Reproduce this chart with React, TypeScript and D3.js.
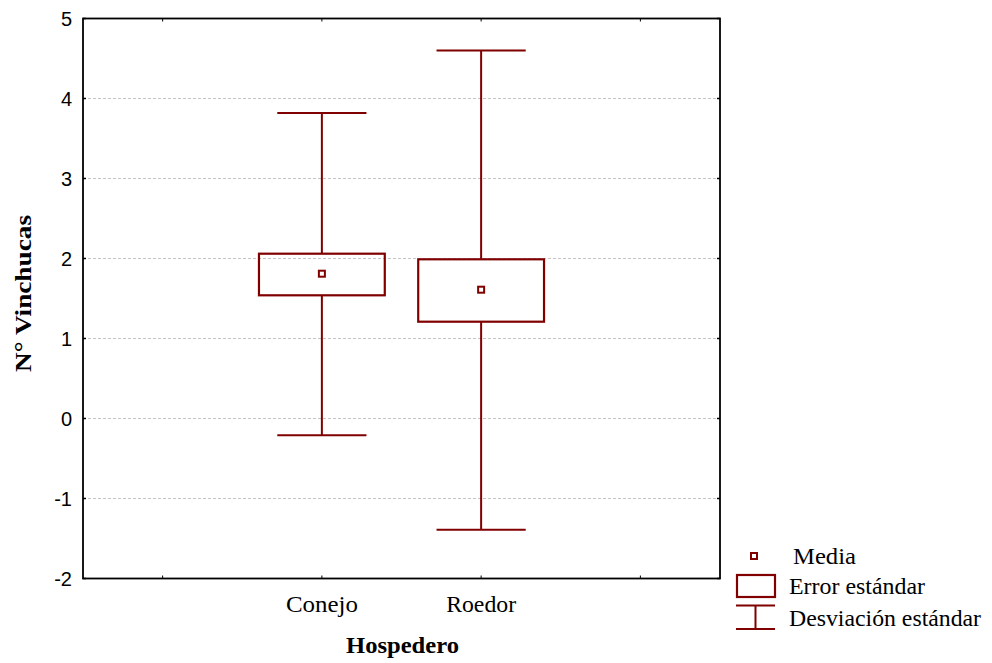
import React from "react";
import * as d3 from "d3";

const categories = ["Conejo", "Roedor"];
const categoryPos = [2, 3];
const means = [1.81, 1.61];
const seLow = [1.54, 1.21];
const seHigh = [2.06, 1.99];
const sdLow = [-0.21, -1.39];
const sdHigh = [3.82, 4.6];
const yTicks = [5, 4, 3, 2, 1, 0, -1, -2];
const xTicks = [1, 2, 3, 4];

const W = 992;
const H = 663;
const L = 83, R = 720, T = 18.5, B = 578.5;
const COL = "#800000";
const SERIF = "'Liberation Serif', 'Times New Roman', Times, serif";
const SANS = "'Liberation Sans', Arial, sans-serif";

export default function App() {
  const x = d3.scaleLinear().domain([0.5, 4.5]).range([L, R]);
  const y = d3.scaleLinear().domain([-2, 5]).range([B, T]);
  const boxHalf = 0.395;
  const capHalf = 0.28;
  const px = (u: number) => x(u) - x(0);

  return (
    <svg width={W} height={H} style={{ position: "absolute", left: 0, top: 0, background: "#fff" }}>
      {yTicks.filter((t) => t > -2 && t < 5).map((t) => (
        <line key={"g" + t} x1={L} x2={R} y1={y(t)} y2={y(t)} stroke="#c4c4c4" strokeWidth={1} strokeDasharray="3,2" />
      ))}
      {yTicks.map((t) => (
        <g key={"yt" + t}>
          <line x1={L} x2={L + 3} y1={y(t)} y2={y(t)} stroke="#000" strokeWidth={1.5} />
          <line x1={R - 3} x2={R} y1={y(t)} y2={y(t)} stroke="#000" strokeWidth={1.5} />
          <text x={72} y={y(t)} dy="0.36em" textAnchor="end" fontFamily={SANS} fontSize={20} fill="#000">{t}</text>
        </g>
      ))}
      {xTicks.map((t) => (
        <g key={"xt" + t}>
          <line x1={x(t)} x2={x(t)} y1={T} y2={T + 3} stroke="#000" strokeWidth={1} />
          <line x1={x(t)} x2={x(t)} y1={B - 3} y2={B} stroke="#000" strokeWidth={1} />
        </g>
      ))}
      <rect x={L} y={T} width={R - L} height={B - T} fill="none" stroke="#000" strokeWidth={1.8} />

      {categories.map((c, i) => {
        const cx = x(categoryPos[i]);
        return (
          <g key={c}>
            <line x1={cx} x2={cx} y1={y(sdHigh[i])} y2={y(seHigh[i])} stroke={COL} strokeWidth={2} />
            <line x1={cx} x2={cx} y1={y(seLow[i])} y2={y(sdLow[i])} stroke={COL} strokeWidth={2} />
            <line x1={cx - px(capHalf)} x2={cx + px(capHalf)} y1={y(sdHigh[i])} y2={y(sdHigh[i])} stroke={COL} strokeWidth={2} />
            <line x1={cx - px(capHalf)} x2={cx + px(capHalf)} y1={y(sdLow[i])} y2={y(sdLow[i])} stroke={COL} strokeWidth={2} />
            <rect x={cx - px(boxHalf)} y={y(seHigh[i])} width={2 * px(boxHalf)} height={y(seLow[i]) - y(seHigh[i])} fill="none" stroke={COL} strokeWidth={2.2} />
            <rect x={cx - 3} y={y(means[i]) - 3} width={6} height={6} fill="#fff" stroke={COL} strokeWidth={2} />
            <text x={cx} y={612} textAnchor="middle" fontFamily={SERIF} fontSize={23} textLength={c === "Conejo" ? 72 : 70} lengthAdjust="spacingAndGlyphs" fill="#000">{c}</text>
          </g>
        );
      })}

      <text x={(L + R) / 2 + 1} y={653} textAnchor="middle" fontFamily={SERIF} fontWeight="bold" fontSize={23} textLength={113} lengthAdjust="spacingAndGlyphs" fill="#000">Hospedero</text>
      <text transform={`translate(31,${(T + B) / 2 - 5}) rotate(-90)`} textAnchor="middle" fontFamily={SERIF} fontWeight="bold" fontSize={23} textLength={157} lengthAdjust="spacingAndGlyphs" fill="#000">N° Vinchucas</text>

      <rect x={751} y={553} width={6} height={6} fill="#fff" stroke={COL} strokeWidth={2} />
      <text x={793} y={564} fontFamily={SERIF} fontSize={23} textLength={63} lengthAdjust="spacingAndGlyphs" fill="#000">Media</text>
      <rect x={737} y={575} width={38} height={22} fill="none" stroke={COL} strokeWidth={2.2} />
      <text x={789} y={594} fontFamily={SERIF} fontSize={23} textLength={136} lengthAdjust="spacingAndGlyphs" fill="#000">Error estándar</text>
      <line x1={736} x2={775} y1={605.5} y2={605.5} stroke={COL} strokeWidth={2} />
      <line x1={736} x2={775} y1={629} y2={629} stroke={COL} strokeWidth={2} />
      <line x1={755.5} x2={755.5} y1={605.5} y2={629} stroke={COL} strokeWidth={2} />
      <text x={789} y={626} fontFamily={SERIF} fontSize={23} textLength={192} lengthAdjust="spacingAndGlyphs" fill="#000">Desviación estándar</text>
    </svg>
  );
}
